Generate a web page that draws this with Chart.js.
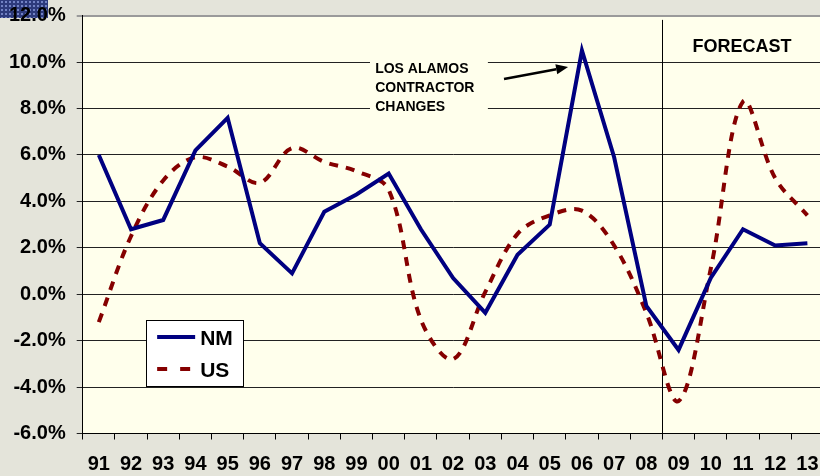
<!DOCTYPE html>
<html><head><meta charset="utf-8">
<script src="https://cdn.jsdelivr.net/npm/chart.js@4.4.0/dist/chart.umd.min.js"></script>
<style>
html,body{margin:0;padding:0;overflow:hidden;background:#e4e4da;}
#wrap{position:relative;width:820px;height:476px;overflow:hidden;}
#corner{position:absolute;left:0;top:0;width:48px;height:18px;background-color:#2d3a7c;background-image:radial-gradient(#7282c4 1px, transparent 1.3px);background-size:4px 4px;}
canvas{position:absolute;left:0;top:0;}
</style></head><body>
<div id="wrap"><div id="corner"></div><canvas id="c" width="830" height="476"></canvas></div>
<script>
const categories = ['91','92','93','94','95','96','97','98','99','00','01','02','03','04','05','06','07','08','09','10','11','12','13'];
const nmValues = [6.0,2.8,3.2,6.2,7.6,2.2,0.9,3.55,4.3,5.2,2.8,0.7,-0.8,1.7,3.0,10.5,5.9,-0.5,-2.4,0.7,2.8,2.1,2.2];
const usValues = [-1.2,2.5,4.9,5.9,5.5,4.8,6.3,5.7,5.3,4.5,-1.1,-2.8,0.1,2.6,3.4,3.6,2.1,-0.8,-4.6,1.1,8.3,5.0,3.4];
const yTicks = [-6,-4,-2,0,2,4,6,8,10,12];
const seriesNames = ['NM','US'];
const annotationLines = ['LOS ALAMOS','CONTRACTOR','CHANGES'];
const forecastLabel = 'FORECAST';
const forecastStartIndex = 18;

const FONT = '"Liberation Sans", Arial, Helvetica, sans-serif';
const NAVY = '#000080';
const RED = '#850000';

const deco = {
  id: 'deco',
  beforeDraw(chart) {
    const {ctx, chartArea: a} = chart;
    ctx.save();
    ctx.fillStyle = '#ffffec';
    ctx.fillRect(a.left, a.top, a.right - a.left, a.bottom - a.top);
    ctx.restore();
  },
  beforeDatasetsDraw(chart) {
    const {ctx, chartArea: a} = chart;
    const x = chart.scales.x, y = chart.scales.y;
    ctx.save();
    const bx0 = x.getPixelForValue(8.42), bx1 = x.getPixelForValue(12.08);
    const by0 = y.getPixelForValue(10.31), by1 = y.getPixelForValue(7.72);
    ctx.fillStyle = '#ffffec';
    ctx.fillRect(bx0, by0, bx1 - bx0, by1 - by0);
    const fx = Math.round((x.getPixelForValue(forecastStartIndex - 1) + x.getPixelForValue(forecastStartIndex)) / 2) + 0.5;
    ctx.strokeStyle = '#000';
    ctx.lineWidth = 1;
    ctx.beginPath();
    ctx.moveTo(fx, y.getPixelForValue(11.82));
    ctx.lineTo(fx, a.bottom);
    ctx.stroke();
    ctx.restore();
  },
  afterDatasetsDraw(chart) {
    const {ctx} = chart;
    const x = chart.scales.x, y = chart.scales.y;
    ctx.save();
    ctx.fillStyle = '#000';
    ctx.textBaseline = 'middle';
    ctx.textAlign = 'left';
    ctx.font = 'bold 14px ' + FONT;
    const tx = x.getPixelForValue(8.58);
    const lineVals = [9.70, 8.88, 8.07];
    annotationLines.forEach((t, i) => ctx.fillText(t, tx, y.getPixelForValue(lineVals[i])));
    const sx = x.getPixelForValue(12.58), sy = y.getPixelForValue(9.27);
    const ex = x.getPixelForValue(14.57), ey = y.getPixelForValue(9.79);
    const ang = Math.atan2(ey - sy, ex - sx);
    const hl = 12, hw = 5;
    ctx.strokeStyle = '#000';
    ctx.lineWidth = 2.5;
    ctx.beginPath();
    ctx.moveTo(sx, sy);
    ctx.lineTo(ex - hl * Math.cos(ang), ey - hl * Math.sin(ang));
    ctx.stroke();
    ctx.beginPath();
    ctx.moveTo(ex, ey);
    ctx.lineTo(ex - hl * Math.cos(ang) + hw * Math.sin(ang), ey - hl * Math.sin(ang) - hw * Math.cos(ang));
    ctx.lineTo(ex - hl * Math.cos(ang) - hw * Math.sin(ang), ey - hl * Math.sin(ang) + hw * Math.cos(ang));
    ctx.closePath();
    ctx.fill();
    ctx.textAlign = 'center';
    ctx.font = 'bold 18px ' + FONT;
    ctx.fillText(forecastLabel, x.getPixelForValue(19.97), y.getPixelForValue(10.65));
    const lx0 = x.getPixelForValue(1.47), lx1 = x.getPixelForValue(4.48);
    const ly0 = y.getPixelForValue(-1.11), ly1 = y.getPixelForValue(-3.96);
    ctx.fillStyle = '#ffffff';
    ctx.fillRect(lx0, ly0, lx1 - lx0, ly1 - ly0);
    ctx.strokeStyle = '#000';
    ctx.lineWidth = 1;
    ctx.strokeRect(Math.round(lx0) + 0.5, Math.round(ly0) + 0.5, Math.round(lx1 - lx0), Math.round(ly1 - ly0));
    const r1 = ly0 + 17, r2 = ly0 + 49;
    ctx.lineWidth = 4;
    ctx.strokeStyle = NAVY;
    ctx.beginPath(); ctx.moveTo(lx0 + 11, r1); ctx.lineTo(lx0 + 49, r1); ctx.stroke();
    ctx.strokeStyle = RED;
    ctx.setLineDash([10, 13]);
    ctx.beginPath(); ctx.moveTo(lx0 + 11, r2); ctx.lineTo(lx0 + 44, r2); ctx.stroke();
    ctx.setLineDash([]);
    ctx.fillStyle = '#000';
    ctx.textAlign = 'left';
    ctx.font = 'bold 21px ' + FONT;
    ctx.fillText(seriesNames[0], lx0 + 54, r1 + 2);
    ctx.fillText(seriesNames[1], lx0 + 54, r2 + 2);
    ctx.restore();
  }
};

new Chart(document.getElementById('c'), {
  type: 'line',
  data: {
    labels: categories,
    datasets: [
      {label: seriesNames[0], data: nmValues, borderColor: NAVY, borderWidth: 4, pointRadius: 0, tension: 0, borderJoinStyle: 'miter', fill: false},
      {label: seriesNames[1], data: usValues, borderColor: RED, borderWidth: 4, borderDash: [9, 8], pointRadius: 0, tension: 0.35, fill: false}
    ]
  },
  options: {
    responsive: false,
    animation: false,
    events: [],
    layout: {padding: {left: 0, right: 6.5, top: 15.7, bottom: 0}},
    plugins: {legend: {display: false}, tooltip: {enabled: false}},
    scales: {
      x: {
        type: 'category',
        offset: true,
        grid: {offset: true, drawOnChartArea: false, drawTicks: true, tickLength: 6, color: '#000'},
        border: {color: '#000', width: 1},
        ticks: {color: '#000', font: {family: FONT, size: 20, weight: 'bold'}, padding: 13, maxRotation: 0, autoSkip: false},
        afterFit(s) { s.height = 42.5; s.paddingLeft = 0; s.paddingRight = 0; }
      },
      y: {
        min: -6, max: 12,
        afterBuildTicks(s) { s.ticks = yTicks.map(v => ({value: v})); },
        grid: {color: ctx => (ctx.tick && ctx.tick.value === 12) ? '#9a9a9a' : '#222', lineWidth: ctx => (ctx.tick && ctx.tick.value === 12) ? 2 : 1, tickLength: 6, drawTicks: true},
        border: {color: '#000', width: 1},
        ticks: {color: '#000', font: {family: FONT, size: 20, weight: 'bold'}, padding: 11, callback: v => v.toFixed(1) + '%'},
        afterFit(s) { s.width = 82.7; s.paddingTop = 0; s.paddingBottom = 0; }
      }
    }
  },
  plugins: [deco]
});
</script>
</body></html>
